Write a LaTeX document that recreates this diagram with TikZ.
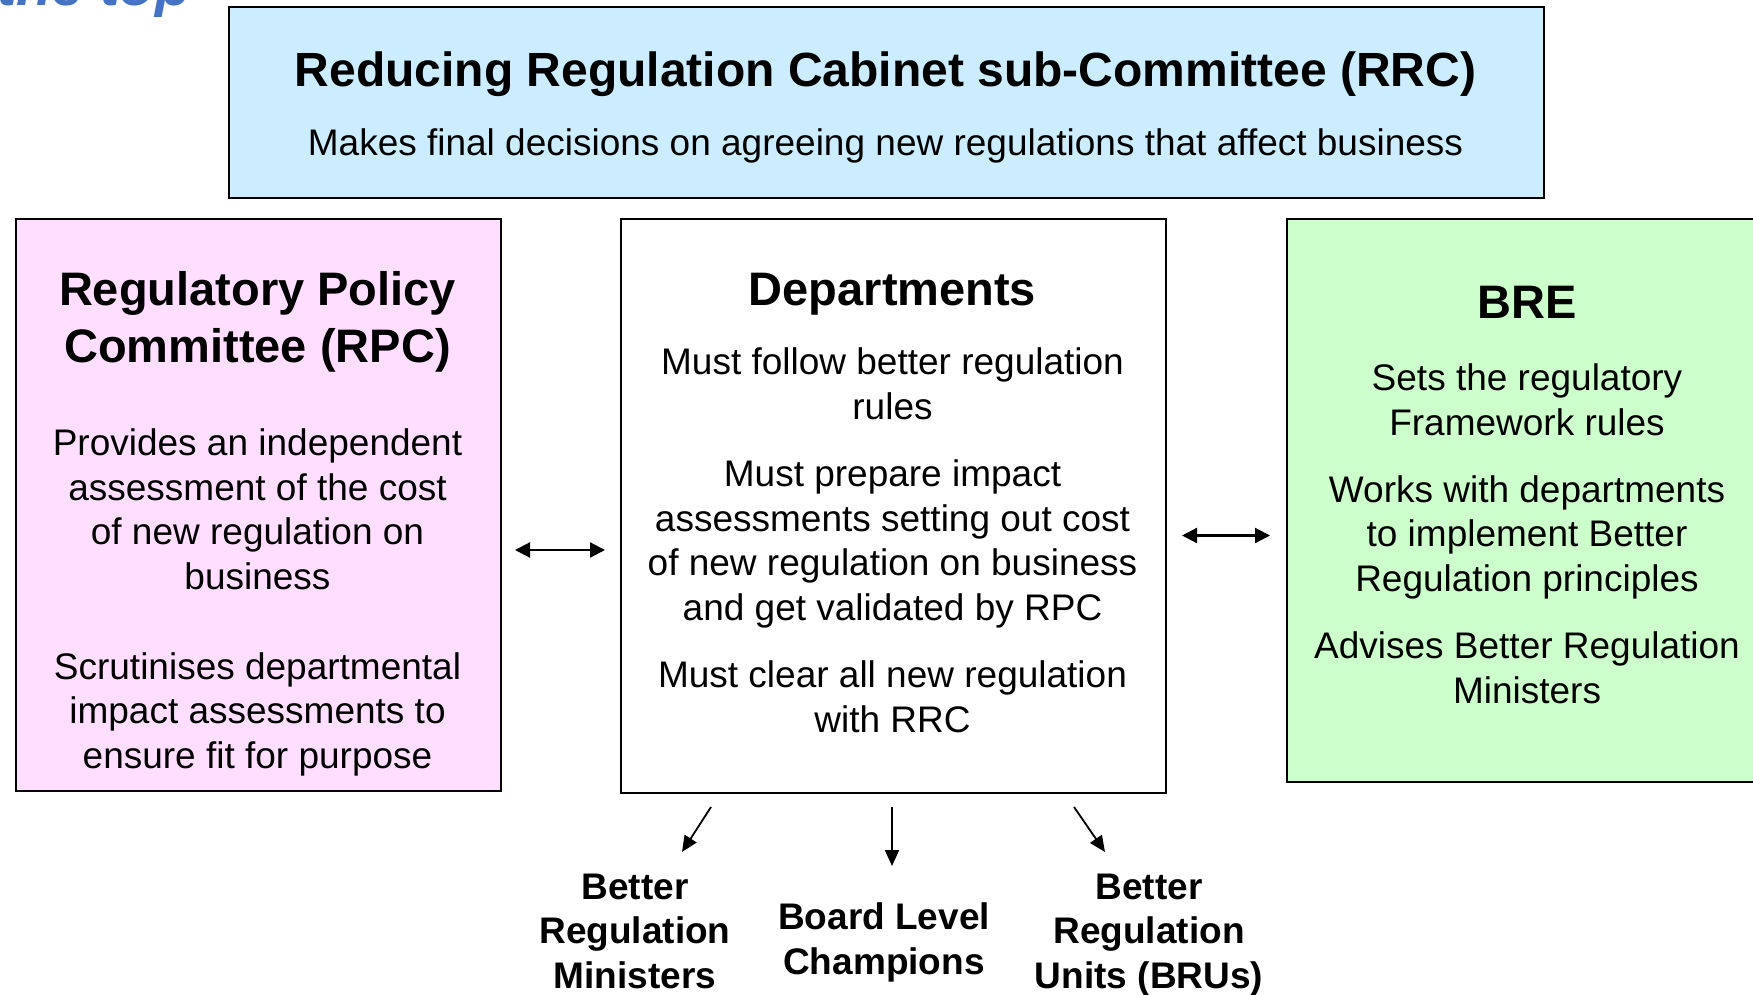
\documentclass[tikz,border=0pt]{standalone}
\usepackage{fontspec}
\setmainfont{Liberation Sans}
\usetikzlibrary{arrows.meta}
\definecolor{rrcblue}{RGB}{204,236,255}
\definecolor{rpcpink}{RGB}{255,222,255}
\definecolor{bregreen}{RGB}{204,255,204}
\definecolor{strapblue}{RGB}{68,114,196}

\begin{document}
\begin{tikzpicture}[x=1pt,y=-1pt,
  panel/.style={draw=black,line width=2pt,anchor=north west,inner sep=0pt},
  % multi-line texts are placed by the baseline of their last line
  heading/.style={anchor=base,align=center,inner sep=0pt,
    font=\fontsize{47}{57}\selectfont\bfseries},
  body/.style={anchor=base,align=center,inner sep=0pt,
    font=\fontsize{37}{44.7}\selectfont},
  outcome/.style={anchor=base,align=center,inner sep=0pt,
    font=\fontsize{37}{44.7}\selectfont\bfseries},
  link/.style={line width=2.2pt,
    {Triangle[length=15pt,width=15pt]}-{Triangle[length=15pt,width=15pt]}},
  feed/.style={line width=1.8pt,-{Triangle[length=16pt,width=14pt]}}]

\useasboundingbox (0,0) rectangle (1753,995);
\clip (0,0) rectangle (1753,995);

% strapline running off the top edge
\node[anchor=base west,inner sep=0pt,text=strapblue,
  font=\fontsize{58}{66}\selectfont\bfseries\itshape] (strap) at (-3,6) {the top};

% panels
\node[panel,fill=rrcblue,minimum width=1315pt,minimum height=191pt] (rrc) at (228,6) {};
\node[panel,fill=rpcpink,minimum width=485pt,minimum height=572pt] (rpc) at (15,218) {};
\node[panel,fill=white,minimum width=545pt,minimum height=574pt] (dept) at (620,218) {};
\node[panel,fill=bregreen,minimum width=484pt,minimum height=563pt] (bre) at (1286,218) {};

% cabinet sub-committee
\node[heading,font=\fontsize{48}{57}\selectfont\bfseries] (rrcT) at (885.5,87)
  {Reducing Regulation Cabinet sub-Committee (RRC)};
\node[body] (rrcD) at (885.5,155.5)
  {Makes final decisions on agreeing new regulations that affect business};

% regulatory policy committee
\node[heading] (rpcT) at (257.5,362) {Regulatory Policy\\Committee (RPC)};
\node[body] (rpcA) at (257.5,589.5)
  {Provides an independent\\assessment of the cost\\of new regulation on\\business};
\node[body] (rpcB) at (257.5,768.5)
  {Scrutinises departmental\\impact assessments to\\ensure fit for purpose};

% departments
\node[heading] (deptT) at (892.5,305) {Departments};
\node[body] (deptA) at (892.5,419) {Must follow better regulation\\rules};
\node[body] (deptB) at (892.5,620.5)
  {Must prepare impact\\assessments setting out cost\\of new regulation on business\\and get validated by RPC};
\node[body] (deptC) at (892.5,732) {Must clear all new regulation\\with RRC};

% better regulation executive
\node[heading] (breT) at (1527,318) {BRE};
\node[body] (breA) at (1527,435) {Sets the regulatory\\Framework rules};
\node[body] (breB) at (1527,591.5)
  {Works with departments\\to implement Better\\Regulation principles};
\node[body] (breC) at (1527,703) {Advises Better Regulation\\Ministers};

% two-way links between panels
\coordinate (rpcR) at (515,550);
\coordinate (deptL) at (605,550);
\draw[link] (rpcR) -- (deptL);
\coordinate (deptR) at (1182,535.5);
\coordinate (breL) at (1270,535.5);
\draw[link] (deptR) -- (breL);

% outcomes beneath the departments panel
\node[outcome] (brm) at (635,988.5) {Better\\Regulation\\Ministers};
\node[outcome] (blc) at (884,974) {Board Level\\Champions};
\node[outcome] (bru) at (1149,988.5) {Better\\Regulation\\Units (BRUs)};

\coordinate (f1a) at (711,807);
\coordinate (f1b) at (682,852);
\coordinate (f2a) at (892,807);
\coordinate (f2b) at (892,866);
\coordinate (f3a) at (1074,807);
\coordinate (f3b) at (1105,852);
\draw[feed] (f1a) -- (f1b);
\draw[feed] (f2a) -- (f2b);
\draw[feed] (f3a) -- (f3b);
\end{tikzpicture}
\end{document}
